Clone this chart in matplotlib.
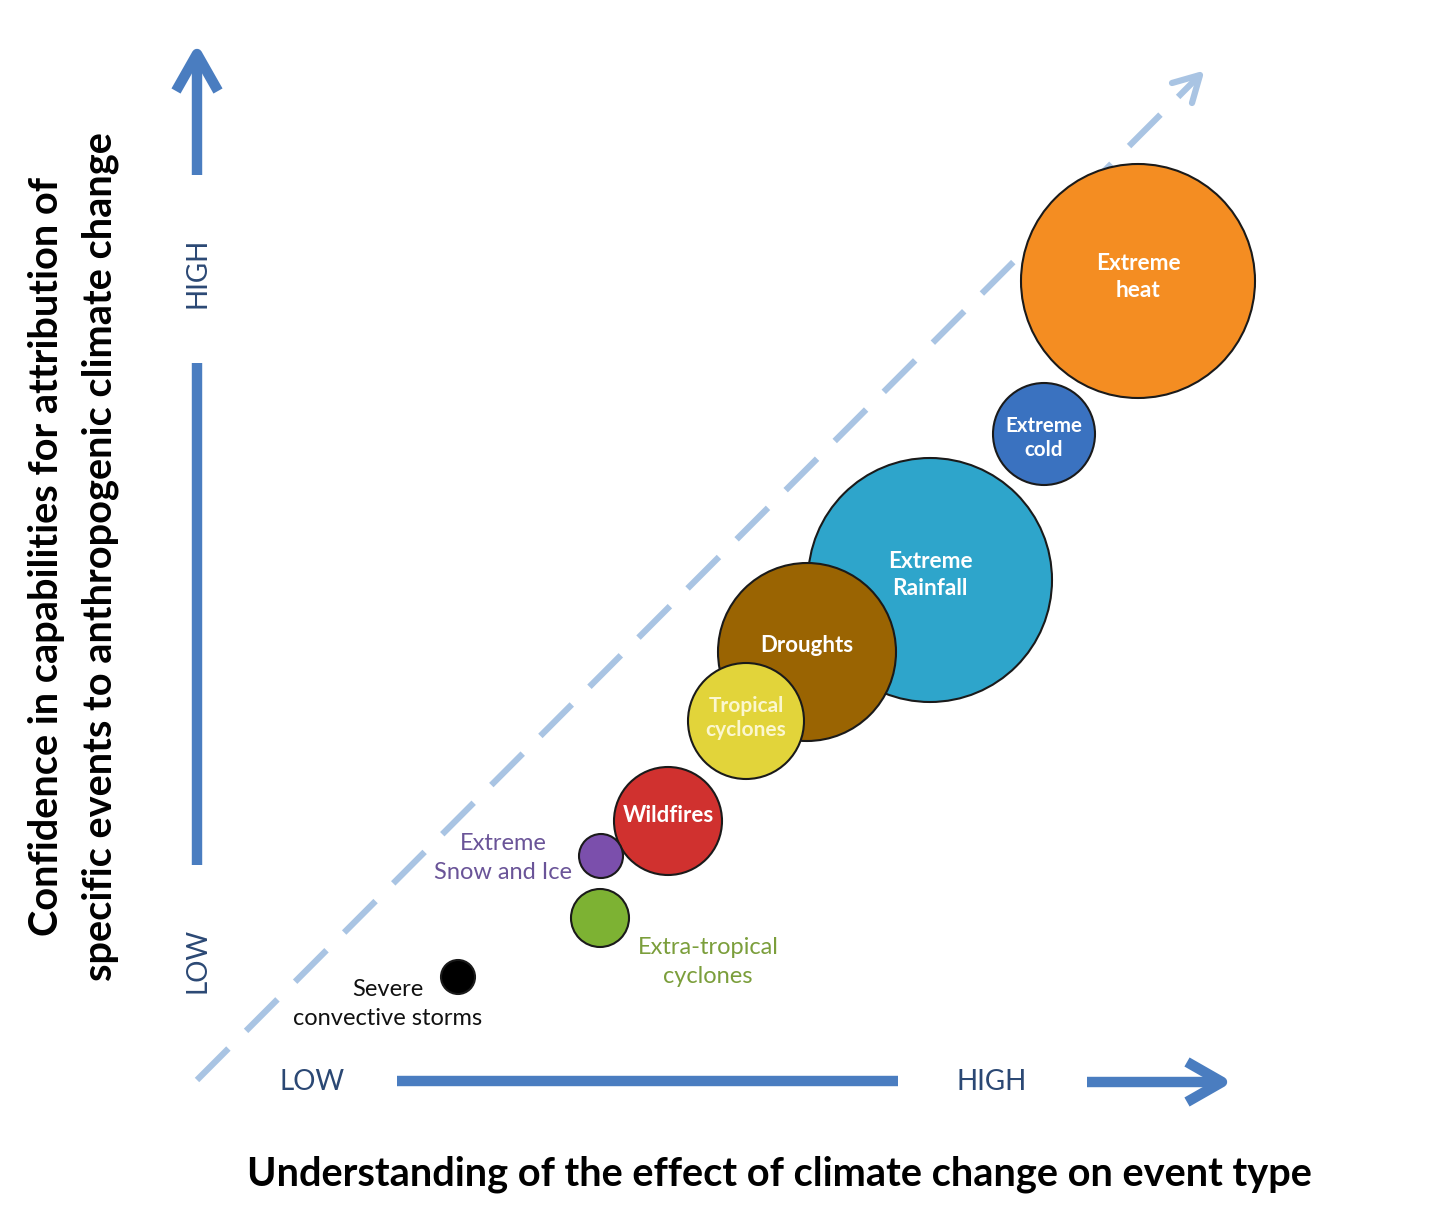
import matplotlib
matplotlib.use("Agg")
import matplotlib.pyplot as plt
from matplotlib.patches import Circle

plt.rcParams['font.family'] = ['Lato', 'DejaVu Sans']
plt.rcParams['lines.scale_dashes'] = False

# ---- data (chart units: x = understanding, y = confidence, r = bubble size) ----
events = ["Extreme heat", "Extreme cold", "Extreme Rainfall", "Droughts",
          "Tropical cyclones", "Wildfires", "Extreme Snow and Ice",
          "Extra-tropical cyclones", "Severe convective storms"]
inner_labels = ["Extreme\nheat", "Extreme\ncold", "Extreme\nRainfall", "Droughts",
                "Tropical\ncyclones", "Wildfires", "", "", ""]
outer_labels = ["", "", "", "", "", "", "Extreme\nSnow and Ice",
                "Extra-tropical\ncyclones", "Severe\nconvective storms"]
understanding = [1138, 1044, 930, 807, 746, 668, 601, 600, 458]
confidence = [934, 781, 635, 563, 494, 394, 359, 297, 238]
size = [117, 51, 122, 89, 58, 54, 22, 29, 17]
colors = ["#F48D22", "#3A72C0", "#2EA5CB", "#9A6402", "#E2D43A",
          "#D0312F", "#7B4FAC", "#7DB233", "#000000"]
inner_colors = ["white", "white", "white", "white", "#FBF7CF", "white",
                "white", "white", "white"]
inner_sizes = [16.3, 14.8, 16.3, 16, 15, 16, 12, 12, 12]
inner_dy = [4, -4, 5, 6, 3, 6, 0, 0, 0]
outer_colors = ["k", "k", "k", "k", "k", "k", "#6A5498", "#7B9E3B", "#111111"]

W, H = 1456, 1215
fig = plt.figure(figsize=(W / 100, H / 100), dpi=100)
ax = fig.add_axes([0, 0, 1, 1])
ax.set_xlim(0, W)
ax.set_ylim(0, H)
ax.set_aspect('equal')
ax.axis('off')

blue = "#4A7DC0"
dark = "#2B4874"
light = "#A9C4E3"

# dashed diagonal with open arrowhead
ax.plot([197, 1200], [H - 1080, H - 75], color=light, lw=4.5,
        dashes=(32, 18), solid_capstyle='butt', zorder=1)
ax.plot([1172, 1200, 1192], [H - 83, H - 75, H - 103], color=light, lw=4.5,
        solid_joinstyle='round', solid_capstyle='round', zorder=1)

# vertical axis arrow
ax.plot([197, 197], [H - 865, H - 363], color=blue, lw=7.5, solid_capstyle='butt')
ax.plot([197, 197], [H - 175, H - 56], color=blue, lw=7.5, solid_capstyle='butt')
ax.plot([176, 197, 218], [H - 91, H - 54, H - 91], color=blue, lw=7.5,
        solid_joinstyle='round', solid_capstyle='butt')
ax.text(197, H - 273, "HIGH", rotation=90, ha='center', va='center',
        fontsize=20, color=dark)
ax.text(197, H - 960, "LOW", rotation=90, ha='center', va='center',
        fontsize=20, color=dark)

# horizontal axis arrow
ax.plot([397, 898], [H - 1081, H - 1081], color=blue, lw=7.5, solid_capstyle='butt')
ax.plot([1087, 1220], [H - 1082, H - 1082], color=blue, lw=7.5, solid_capstyle='butt')
ax.plot([1187, 1222, 1187], [H - 1062, H - 1082, H - 1102], color=blue, lw=7.5,
        solid_joinstyle='round', solid_capstyle='butt')
ax.text(312, H - 1082, "LOW", ha='center', va='center', fontsize=20, color=dark)
ax.text(992, H - 1082, "HIGH", ha='center', va='center', fontsize=20, color=dark)

# bubbles
for i in range(len(events)):
    c = Circle((understanding[i], confidence[i]), size[i], facecolor=colors[i],
               edgecolor="#1a1a1a", lw=1.5, zorder=3 + i)
    ax.add_patch(c)
    if inner_labels[i]:
        ax.text(understanding[i], confidence[i] + inner_dy[i],
                inner_labels[i], ha='center', va='center', fontsize=inner_sizes[i],
                fontweight='bold', color=inner_colors[i], linespacing=1.3, zorder=20)

# outer labels
ax.text(503, H - 858, outer_labels[6], ha='center', va='center', fontsize=17,
        color=outer_colors[6], linespacing=1.5, zorder=20)
ax.text(708, H - 962, outer_labels[7], ha='center', va='center', fontsize=17,
        color=outer_colors[7], linespacing=1.5, zorder=20)
ax.text(388, H - 1004, outer_labels[8], ha='center', va='center', fontsize=17,
        color=outer_colors[8], linespacing=1.5, zorder=20)

# axis titles
ax.text(779, H - 1174, "Understanding of the effect of climate change on event type",
        ha='center', va='center', fontsize=28.6, fontweight='bold', color='black')
ax.text(47, H - 557, "Confidence in capabilities for attribution of",
        rotation=90, ha='center', va='center', fontsize=28.6, fontweight='bold', color='black')
ax.text(100, H - 557, "specific events to anthropogenic climate change",
        rotation=90, ha='center', va='center', fontsize=28.6, fontweight='bold', color='black')

fig.savefig("out.png", dpi=100, facecolor='white')
